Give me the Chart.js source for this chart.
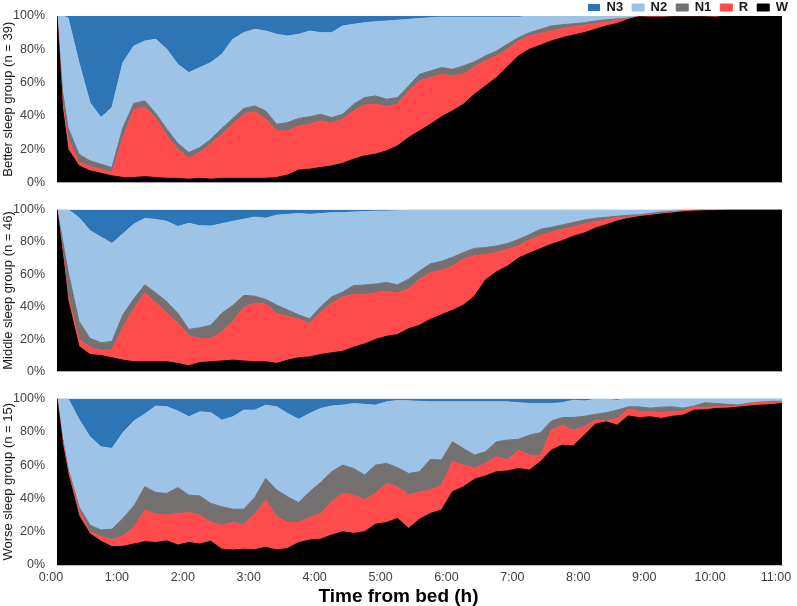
<!DOCTYPE html>
<html><head><meta charset="utf-8">
<script src="https://cdn.jsdelivr.net/npm/chart.js@4.4.1/dist/chart.umd.min.js"></script>
<style>
html,body{margin:0;padding:0;width:797px;height:606px;overflow:hidden;background:#fff;}
.panel{position:absolute;left:0;width:797px;}
</style></head><body>
<div class="panel" style="top:-8px;height:210px"><canvas id="c1"></canvas></div>
<div class="panel" style="top:190px;height:201px"><canvas id="c2"></canvas></div>
<div class="panel" style="top:379px;height:227px"><canvas id="c3"></canvas></div>
<script>
// Time from bed (minutes)
const minutes = [0,5,10,20,30,40,50,60,70,80,90,100,110,120,130,140,150,160,170,180,190,200,210,220,230,240,250,260,270,280,290,300,310,320,330,340,350,360,370,380,390,400,410,420,430,440,450,460,470,480,490,500,510,520,530,540,550,560,570,580,590,600,610,620,630,640,650,660];
const tickLabels = ['0:00','1:00','2:00','3:00','4:00','5:00','6:00','7:00','8:00','9:00','10:00','11:00'];
const stages = ['W','R','N1','N2','N3'];

// Cumulative share (%) — upper edge of each stage band, stacked W → R → N1 → N2 (N3 fills up to 100%)
// Better sleep group (n = 39)
const betterW  = [100,45,20,10,7,5.5,4,3,3,3.5,3,2.5,2.5,2,2.5,2,2.5,2.5,2.5,2.5,2.5,3,4.5,7.5,8,9,10,11.5,14,16,17,19,22,27,31,35,39.5,43,47,53,58,63,69.5,76,80,82.5,85,87,88.5,90,92,94,95.5,98,99.5,99.3,99.3,99.5,99.5,99.5,99.5,99.3,100,100,100,100,100,100];
const betterR  = [100,48,26,12,9.5,8,6,27,44,45,38.5,28,20,14.5,18,23,29,35,41,42.5,38,31,31,34,35,37,35.5,38,43,46.5,47,45.5,47,55,61,63,65,64,65,69.5,73,76,80,85,88,89.5,91,92.5,93.5,94.5,95.5,96.5,97.5,98.5,99.6,99.8,99.8,99.7,99.7,99.7,99.7,99.8,100,100,100,100,100,100];
const betterN1 = [100,55,33,17,13,11,9,33,47.5,49,41.5,32,23.5,18,21,26,32.5,38.5,44.5,46,43,35,36,38.5,39.5,41,39,41,47,51,52,50,51,58,65,67,69,68,70,72.5,76,79,83,87,90,92,94,94.8,95.3,96,97,97.7,98.2,98.7,99.7,99.9,99.9,99.8,99.8,99.8,99.8,99.9,100,100,100,100,100,100];
const betterN2 = [100,100,99,72,48,39,45,72,82,85,86,80,71,66,69,72,77,86,90,92,91,89,88,89,91,90,90,94,95,96,96.5,97,97.5,98,98.5,99,99.3,99.3,99.3,99.3,99.3,99.3,99.3,99.3,100,100,100,100,100,100,100,100,100,100,100,100,100,100,100,100,100,100,100,100,100,100,100,100];

// Middle sleep group (n = 46)
const middleW  = [100,73,44,15.5,10.5,9.8,8.5,7,6,6,6,6,5,3.5,5.5,6,6.5,7,6.5,6,6,5,7,8.5,9,10.5,11.5,12.5,15,17,19.8,21.7,22.8,26.4,28.5,32.3,35,37.8,41,46.5,56.5,61.5,65,70,73,75.8,78.5,80.8,83.5,85.5,88.5,90.6,92.9,94.5,95.6,96.4,97.2,97.8,98.6,99,99.2,99.3,99.5,99.5,99.5,99.5,99.5,99.5];
const middleR  = [100,75,47,20,15,13,13.5,27,39,48.5,42.5,36,30,22,20.4,20.4,24.5,31,39.5,42.3,41.6,36,34,32.5,29.5,36.5,42,46,47.5,47.6,48.5,49.5,48.5,51,57,61,62.5,65,69.5,71.5,72.3,73.5,75.5,77.5,81,84,86,87.8,89.2,91,92.5,93.6,95,95.3,96.2,97,97.7,98.5,99.2,99.5,99.6,99.6,99.6,99.6,99.6,99.6,99.6,99.6];
const middleN1 = [100,81,62,31,20.5,17.8,18.5,35,45,53.5,48.5,43,36,26,27,28.5,36,40.7,47,46.5,44.5,41,38,35,32.5,40,46,49,53,53.4,54,55,53.5,57,62,66.5,68,70.5,73.5,76,76.5,77.5,79,81.5,84.5,87.8,89,90.5,92,93.5,94.6,95.2,95.8,96.5,96.7,97.6,98.4,98.8,99.3,99.6,99.7,99.7,99.8,99.8,99.8,99.8,99.8,99.8];
const middleN2 = [100,100,100,95,87,83,79,85,91,94.5,93.8,92.7,89.5,91.5,90,89.8,91.2,92.7,94,95.3,94.6,96.5,97,97.5,97,97.5,98,98,98.5,98.7,99,99,99.2,99.5,99.5,99.5,99.5,99.5,99.5,99.5,99.5,99.5,99.5,99.5,99.5,99.5,99.5,99.5,99.5,99.5,99.5,99.5,99.5,99.5,99.5,99.5,99.5,100,100,100,100,100,100,100,100,100,100,100];

// Worse sleep group (n = 15)
const worseW  = [100,73,55,29.5,18.7,14.3,11,11.2,12.6,14,13.5,14.5,12,13.5,12.6,14.3,9.5,9,9.5,9.2,10.7,9,10,13.5,15,15.5,18,20,19,20,24.5,25.5,28,22,27.5,31,33,44,47,51.5,53.5,56,56.5,58,57,62,69,72,71.5,78,84.5,86,84,89.5,88.5,89,88,89.3,90,93,93.2,94,94.2,94.8,95.5,96,96.3,97];
const worseR  = [100,75.5,57,33,20,17,15,17.5,22.5,33,30.5,30,31,31.5,30,25.5,24,25.5,24.5,30.5,39,29,25.5,25.5,28.5,31,38,43,42,39,43,49,47,42,44,45,48,62,60,58,61,65,63,69,66,65.5,81,84,81,83,87,86.5,88,93.5,92.2,92.2,91.5,92,92.5,95,94.5,95.2,95,95.5,97,97.5,98,98];
const worseN1 = [100,76,58,35,24,21,21.5,28,35.5,47,43.5,43,46.5,42,41.5,37,35,33.5,33.5,40.5,52,45,41,37.5,44,49.5,56,60,58,54,60,61,58.5,55,56,63.5,63,74,70,66,68,74,75,75.5,78,79.5,86.5,88.5,88.6,89.3,90.5,91.5,93,95,95,94.2,94.8,95,94.2,95.5,97.5,97,96.5,96.1,97.2,97.8,98.3,98.3];
const worseN2 = [100,100,100,87.5,77,71,70,79.5,86.5,90.7,95.5,95,92.5,89,92,91.5,87,89,93,93,96,95,91,87.5,91,94,95.5,96,97,96.5,96,98,98.8,98.6,98.3,98,98,98,98,98,98,98,98,97.5,97,97,97,97.5,99,98.5,99.5,99.5,99,100,100,100,100,100,100,100,100,100,100,100,100,100,100,100];

const colors = {W:'#000000', R:'#FF4B4B', N1:'#767171', N2:'#9DC3E6', N3:'#2E75B6'};
const FONT = "'Liberation Sans', Arial, Helvetica, sans-serif";
Chart.defaults.font.family = FONT;

function pts(arr){ return minutes.map((t,i)=>({x:t, y:arr[i]})); }

function makePanel(id, yTitle, cum, o){
  const ds = [
    {label:'W',  data:pts(cum.W),  fill:'origin'},
    {label:'R',  data:pts(cum.R),  fill:'-1'},
    {label:'N1', data:pts(cum.N1), fill:'-1'},
    {label:'N2', data:pts(cum.N2), fill:'-1'},
    {label:'N3', data:pts(cum.N2), fill:'end'}
  ].map(d => Object.assign(d, {
    backgroundColor: colors[d.label], borderColor: colors[d.label],
    borderWidth: d.label==='N3'?0:1, pointRadius:0, pointHoverRadius:0, tension:0
  }));
  return new Chart(document.getElementById(id), {
    type:'line',
    data:{datasets:ds},
    options:{
      responsive:true, maintainAspectRatio:false, animation:false, events:[],
      layout:{padding:o.padding},
      plugins:{
        tooltip:{enabled:false},
        legend:{
          display:o.legend, position:'top', align:'end', reverse:true, maxHeight:24,
          labels:{boxWidth:12, boxHeight:7, padding:9, color:'#1a1a1a',
                  font:{size:13, weight:'bold', family:FONT}}
        },
        title:{
          display:o.xTicks, text:'Time from bed (h)', position:'bottom', color:'#000',
          font:{size:19, weight:'bold', family:FONT, lineHeight:1}, padding:{top:2,bottom:0}
        }
      },
      scales:{
        x:{
          type:'linear', min:0, max:660,
          grid:{display:false, drawTicks:false},
          border:{display:true, color:'#BFBFBF', width:1},
          ticks:{display:o.xTicks, stepSize:60, padding:5, labelOffset:-6, color:'#404040', font:{size:12.5},
                 maxRotation:0, autoSkip:false,
                 callback:(v)=> tickLabels[Math.round(v/60)]},
          afterFit:(s)=>{ s.height = o.xHeight; s.paddingLeft = 0; s.paddingRight = 0; }
        },
        y:{
          min:0, max:100,
          grid:{display:false, drawTicks:false},
          border:{display:false},
          ticks:{stepSize:20, padding:12, color:'#404040', font:{size:12.5},
                 callback:(v)=> v + '%'},
          title:{display:true, text:yTitle, color:'#1a1a1a', font:{size:13}, padding:{top:1,bottom:0}},
          afterFit:(s)=>{ s.width = 57; }
        },
        yr:{
          type:'linear', position:'right', display:true,
          grid:{display:false, drawTicks:false}, border:{display:false},
          ticks:{display:false},
          afterFit:(s)=>{ s.width = 15; }
        }
      }
    }
  });
}

makePanel('c1','Better sleep group (n = 39)',
  {W:betterW, R:betterR, N1:betterN1, N2:betterN2},
  {legend:true, xTicks:false, xHeight:2, padding:{top:0,bottom:12,left:0,right:0}});
makePanel('c2','Middle sleep group (n = 46)',
  {W:middleW, R:middleR, N1:middleN1, N2:middleN2},
  {legend:false, xTicks:false, xHeight:2, padding:{top:14,bottom:12,left:0,right:0}});
makePanel('c3','Worse sleep group (n = 15)',
  {W:worseW, R:worseR, N1:worseN1, N2:worseN2},
  {legend:false, xTicks:true, xHeight:20, padding:{top:14,bottom:0,left:0,right:0}});
</script>
</body></html>
